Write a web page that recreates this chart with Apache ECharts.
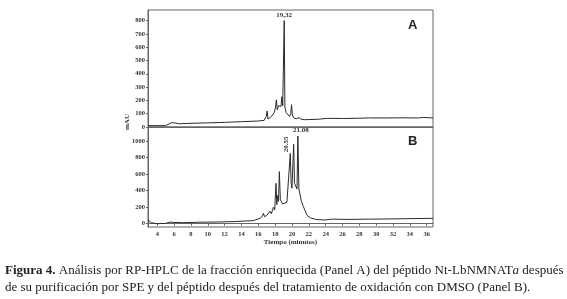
<!DOCTYPE html>
<html><head><meta charset="utf-8">
<script src="https://cdn.jsdelivr.net/npm/echarts@6/dist/echarts.min.js"></script>
<style>html,body{margin:0;padding:0;background:#fff}#c{width:567px;height:299px}</style>
</head><body><div id="c"></div>
<script>
// Panel A: retention time (min) and absorbance (mAU)
const timeA = [2.9,5.0,5.3,5.7,6.2,6.6,6.8,8,10,12,14,16,16.7,16.95,17.05,17.15,17.4,17.7,17.9,18.05,18.15,18.25,18.4,18.55,18.7,18.8,18.9,19.0,19.08,19.16,19.3,19.5,19.7,19.85,19.95,20.05,20.2,20.5,20.85,21.1,21.5,22,23,24.2,24.4,26,28,29.1,29.2,29.35,31,33,35,35.6,35.7,36.75];
const valA  = [10,10,20,33,30,24,27,28,31,35,40,45,50,80,120,60,70,90,110,150,205,130,160,175,155,228,160,170,800,150,110,95,80,100,168,90,70,62,70,58,55,56,58,65,62,64,66,68,75,68,68,69,68,72,69,68];
// Panel B
const timeB = [2.9,3.3,3.9,5.0,5.5,6.0,7.1,9,11,13,15.4,16.2,16.5,16.6,16.75,17.0,17.2,17.4,17.55,17.8,17.95,18.1,18.2,18.3,18.4,18.5,18.62,18.75,18.9,19.1,19.4,19.8,19.9,20.0,20.2,20.3,20.5,20.6,20.7,20.82,20.9,21.1,21.3,21.5,21.8,22.2,22.9,23.9,24.7,27,29.1,29.25,29.4,32,34.5,36.75];
const valB  = [45,12,0,3,20,15,12,18,20,25,37,65,90,125,85,100,110,150,120,200,165,488,230,340,270,630,290,310,240,230,260,850,490,430,960,490,500,420,1060,420,400,280,220,200,100,70,50,45,55,52,55,70,55,58,62,65];
// Axis ticks
const ticksAY = [0,100,200,300,400,500,600,700,800];
const ticksBY = [0,200,400,600,800,1000];
const ticksX = [4,6,8,10,12,14,16,18,20,22,24,26,28,30,32,34,36];
// Peak annotations
const peaksA = [{name:'19,32', t:19.08, v:800}];
const peaksB = [{name:'21.08', t:20.7, v:1060}, {name:'20.55', t:20.2, v:960}];

const lblFont = {fontFamily:'Liberation Serif', fontWeight:'bold', fontSize:6.5, color:'#333', formatter:v=>String(v)};
const chart = echarts.init(document.getElementById('c'), null, {renderer:'canvas'});
const pairs = (t,v)=>t.map((x,i)=>[x,v[i]]);
const XMIN = 2.9, XMAX = 36.75;
const option = {
  animation:false,
  grid:[
    {left:148, top:10, width:285, height:117, show:true, borderColor:'#666', borderWidth:1},
    {left:148, top:127, width:285, height:100, show:true, borderColor:'#666', borderWidth:1}
  ],
  xAxis:[
    {gridIndex:0, type:'value', min:XMIN, max:XMAX, axisLabel:{show:false}, axisTick:{show:false}, splitLine:{show:false}, axisLine:{lineStyle:{color:'#666'}}},
    {gridIndex:1, type:'value', min:XMIN, max:XMAX, splitLine:{show:false}, axisLine:{lineStyle:{color:'#666'}},
     axisTick:{customValues:ticksX, length:2, lineStyle:{color:'#666'}},
     axisLabel:Object.assign({customValues:ticksX, margin:4}, lblFont),
     name:'Tiempo (minutos)', nameLocation:'middle', nameGap:11,
     nameTextStyle:{fontFamily:'Liberation Serif', fontWeight:'bold', fontSize:7, color:'#333'}}
  ],
  yAxis:[
    {gridIndex:0, type:'value', min:0, max:880, splitLine:{show:false}, axisLine:{lineStyle:{color:'#666'}},
     axisTick:{customValues:ticksAY, length:2, lineStyle:{color:'#666'}},
     axisLabel:Object.assign({customValues:ticksAY, margin:3}, lblFont)},
    {gridIndex:1, type:'value', min:-40, max:1170, splitLine:{show:false}, axisLine:{lineStyle:{color:'#666'}},
     axisTick:{customValues:ticksBY, length:2, lineStyle:{color:'#666'}},
     axisLabel:Object.assign({customValues:ticksBY, margin:3}, lblFont)}
  ],
  series:[
    {type:'line', xAxisIndex:0, yAxisIndex:0, data:pairs(timeA,valA), showSymbol:false, lineStyle:{color:'#2a2a2a', width:1},
     markPoint:{symbolSize:0, data:peaksA.map(p=>({coord:[p.t,p.v], name:p.name, label:{show:true, formatter:p.name, position:'top', distance:2, fontFamily:'Liberation Serif', fontWeight:'bold', fontSize:7, color:'#333'}}))}},
    {type:'line', xAxisIndex:1, yAxisIndex:1, data:pairs(timeB,valB), showSymbol:false, lineStyle:{color:'#2a2a2a', width:1},
     markPoint:{symbolSize:0, data:[
       {coord:[peaksB[0].t,peaksB[0].v], label:{show:true, formatter:peaksB[0].name, position:'top', distance:2, offset:[3,0], fontFamily:'Liberation Serif', fontWeight:'bold', fontSize:7, color:'#333'}},
       {coord:[peaksB[1].t,peaksB[1].v], label:{show:true, formatter:peaksB[1].name, position:'top', rotate:90, distance:2, offset:[-2,-4], fontFamily:'Liberation Serif', fontWeight:'bold', fontSize:7, color:'#333'}}
     ]}}
  ],
  graphic:[
    {type:'text', left:408, top:19, style:{text:'A', font:'bold 13px "Liberation Sans"', fill:'#222'}},
    {type:'text', left:408, top:135, style:{text:'B', font:'bold 13px "Liberation Sans"', fill:'#222'}},
    {type:'text', x:127, y:122, rotation:Math.PI/2, style:{text:'mAU', font:'bold 7px "Liberation Serif"', fill:'#333', align:'center', verticalAlign:'middle'}},
    {type:'text', left:5, top:264, style:{text:'{b|Figura 4.} Análisis por RP-HPLC de la fracción enriquecida (Panel A) del péptido Nt-LbNMNAT{i|a} después',
      font:'13px "Liberation Serif"', fill:'#222', rich:{b:{fontWeight:'bold', fontFamily:'Liberation Serif', fontSize:13, fill:'#222'}, i:{fontStyle:'italic', fontFamily:'Liberation Serif', fontSize:13, fill:'#222'}}}},
    {type:'text', left:5, top:281, style:{text:'de su purificación por SPE y del péptido después del tratamiento de oxidación con DMSO (Panel B).',
      font:'13px "Liberation Serif"', fill:'#222'}}
  ]
};
chart.setOption(option);
</script></body></html>
